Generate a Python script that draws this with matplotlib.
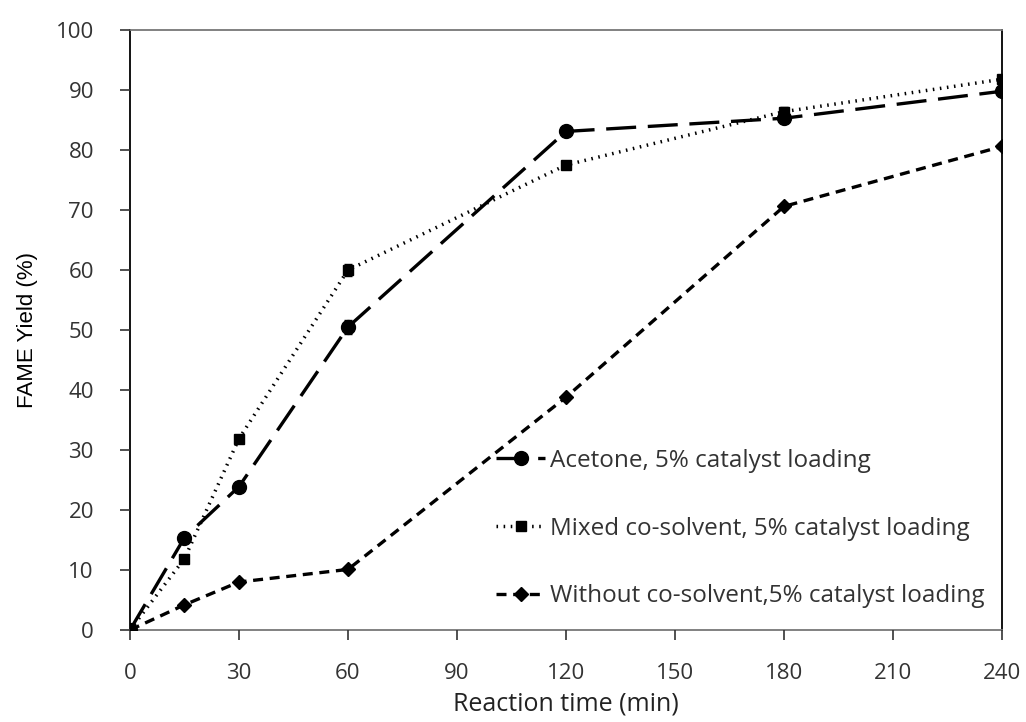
import matplotlib.pyplot as plt
from matplotlib.lines import Line2D

time_min = [0, 15, 30, 60, 120, 180, 240]
acetone = [0, 15.4, 23.9, 50.5, 83.1, 85.3, 89.8]
mixed = [0, 11.9, 31.9, 60.0, 77.5, 86.4, 91.8]
without = [0, 4.2, 8.0, 10.1, 38.8, 70.6, 80.6]
acetone_err = [0, 0.6, 0.5, 1.2, 0.5, 0.5, 0.5]
mixed_err = [0, 0.4, 0.5, 1.0, 0.5, 0.8, 0.5]
without_err = [0, 0.3, 0.3, 0.3, 0.4, 0.4, 0.4]

labels = ['Acetone, 5% catalyst loading',
          'Mixed co-solvent, 5% catalyst loading',
          'Without co-solvent,5% catalyst loading']

styles = [
    dict(lw=2.4, dashes=(9, 3.5), marker='o', ms=10),
    dict(lw=2.5, dashes=(0.45, 1.6), marker='s', ms=7.5),
    dict(lw=2.4, dashes=(3, 2), marker='D', ms=7),
]

fig = plt.figure(figsize=(10.26, 7.22), dpi=100)
ax = fig.add_axes([0.1267, 0.1274, 0.8499, 0.831])

series = [(acetone, acetone_err), (mixed, mixed_err), (without, without_err)]
for (vals, err), st in zip(series, styles):
    ax.errorbar(time_min, vals, yerr=err, color='black', capsize=3,
                elinewidth=0.8, **st)

ax.set_xlim(0, 240)
ax.set_ylim(0, 100)
ax.set_xticks(range(0, 241, 30))
ax.set_yticks(range(0, 101, 10))

for t in ax.get_xticklabels() + ax.get_yticklabels():
    t.set_fontfamily('Open Sans')
    t.set_fontsize(16)
    t.set_color('#333333')
ax.tick_params(axis='both', direction='out', length=7, width=1.2, color='#333333')
ax.tick_params(axis='x', pad=17)
ax.tick_params(axis='y', pad=19)

ax.spines['left'].set_color('black')
ax.spines['right'].set_color('black')
ax.spines['top'].set_color('#777777')
ax.spines['bottom'].set_color('#777777')
for s in ax.spines.values():
    s.set_linewidth(1.3)
    s.set_zorder(1)

ax.set_xlabel('Reaction time (min)', fontfamily='Open Sans', fontsize=18,
              color='#222222', labelpad=5)
ax.set_ylabel('FAME Yield (%)', fontfamily='Liberation Sans', fontsize=16,
              labelpad=13)

handles = [Line2D([], [], color='black', **st) for st in styles]
leg = ax.legend(handles, labels, loc='upper left', bbox_to_anchor=(0.42, 0.302),
                frameon=False, borderpad=0, borderaxespad=0,
                handlelength=2.0, handletextpad=0.2, labelspacing=1.8,
                prop={'family': 'Open Sans', 'size': 17.5})
for t in leg.get_texts():
    t.set_color('#333333')

fig.savefig('out.png', dpi=100)
